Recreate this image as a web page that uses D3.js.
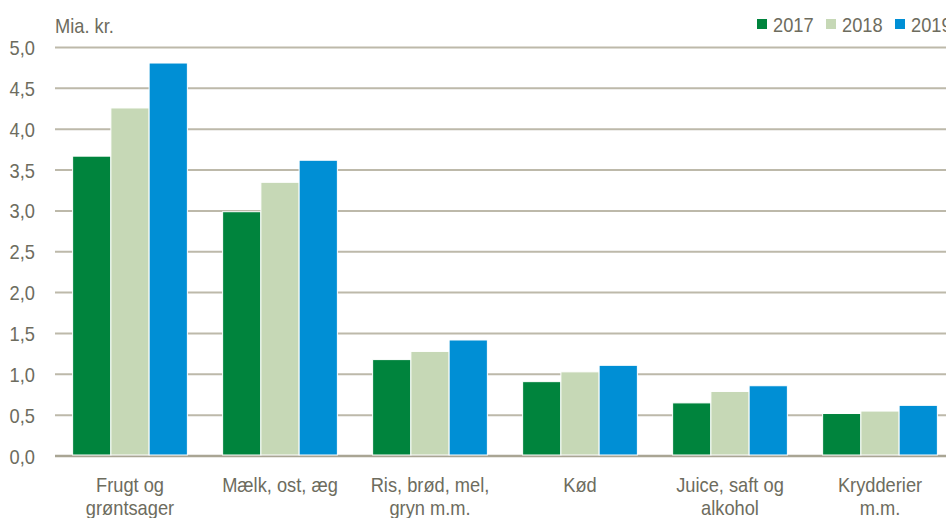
<html lang="da">
<head>
  <meta charset="utf-8" />
  <title>Mia. kr.</title>
  <script src="https://d3js.org/d3.v7.min.js"></script>
  <style>
    body { margin: 0; background: #ffffff; }
    text { font-family: "Liberation Sans Narrow", "Arial Narrow", "Liberation Sans", Arial, sans-serif; fill: #6d6c5e; font-size: 21px; }
  </style>
</head>
<body>
  <div id="chart"></div>
  <script>
    var width = 946,   // canvas size
        height = 518,
        squeeze = 0.87; // narrow look of the original font

    // data
    var categories = [
      ["Frugt og", "grøntsager"],
      ["Mælk, ost, æg"],
      ["Ris, brød, mel,", "gryn m.m."],
      ["Kød"],
      ["Juice, saft og", "alkohol"],
      ["Krydderier", "m.m."]
    ];
    var years = ["2017", "2018", "2019"];
    var values2017 = [3.67, 2.99, 1.18, 0.91, 0.65, 0.52];
    var values2018 = [4.26, 3.35, 1.28, 1.03, 0.79, 0.55];
    var values2019 = [4.81, 3.62, 1.42, 1.11, 0.86, 0.62];
    var yTicks = [0, 0.5, 1, 1.5, 2, 2.5, 3, 3.5, 4, 4.5, 5];
    var colors = ["#00843d", "#c6d8b6", "#008fd5"];

    var series = [values2017, values2018, values2019];

    var svg = d3.select("#chart")
                .append("svg")
                .attr("width", width)
                .attr("height", height);

    function place(x, y) { return "translate(" + x + "," + y + ") scale(" + squeeze + ",1)"; }

    // scales
    var x0 = d3.scaleBand()
               .domain(d3.range(categories.length))
               .range([55, 955])
               .paddingInner(0.235)
               .paddingOuter(0.1175);

    var x1 = d3.scaleBand()
               .domain(years)
               .range([0, x0.bandwidth()]);

    var y = d3.scaleLinear()
              .domain([0, 5])
              .range([456, 47.5]);

    var fmt = function(d) { return d3.format(".1f")(d).replace(".", ","); };

    // gridlines
    svg.append("g")
       .selectAll("line")
       .data(yTicks)
       .enter().append("line")
       .attr("x1", 55)
       .attr("x2", width)
       .attr("y1", function(d) { return y(d); })
       .attr("y2", function(d) { return y(d); })
       .attr("stroke", function(d) { return d === 0 ? "#a9a594" : "#bdb9aa"; })
       .attr("stroke-width", function(d) { return d === 0 ? 2.5 : 2; });

    // y tick labels
    svg.append("g")
       .selectAll("text")
       .data(yTicks)
       .enter().append("text")
       .attr("transform", function(d) { return place(35, y(d)); })
       .attr("dy", "0.36em")
       .attr("text-anchor", "end")
       .text(fmt);

    svg.append("text")
       .attr("transform", place(55, 33))
       .text("Mia. kr.");

    // bars
    var groups = svg.selectAll("g.grp")
                    .data(categories)
                    .enter().append("g")
                    .attr("class", "grp")
                    .attr("transform", function(d, i) { return "translate(" + x0(i) + ",0)"; });

    groups.selectAll("rect")
          .data(function(d, i) { return series.map(function(s, j) { return {year: years[j], value: s[i], color: colors[j]}; }); })
          .enter().append("rect")
          .attr("x", function(d) { return x1(d.year); })
          .attr("y", function(d) { return y(d.value); })
          .attr("width", x1.bandwidth())
          .attr("height", function(d) { return y(0) - y(d.value) - 1; })
          .attr("fill", function(d) { return d.color; })
          .attr("stroke", "#ffffff")
          .attr("stroke-width", 1);

    // category labels
    groups.append("text")
          .attr("transform", place(x0.bandwidth() / 2, 492))
          .attr("text-anchor", "middle")
          .selectAll("tspan")
          .data(function(d) { return d; })
          .enter().append("tspan")
          .attr("x", 0)
          .attr("dy", function(d, i) { return i === 0 ? 0 : 23; })
          .text(function(d) { return d; });

    // legend
    var legend = svg.selectAll("g.legend")
                    .data(years)
                    .enter().append("g")
                    .attr("class", "legend")
                    .attr("transform", function(d, i) { return "translate(" + (757 + i * 69) + ",0)"; });

    legend.append("rect")
          .attr("x", 0)
          .attr("y", 19)
          .attr("width", 10)
          .attr("height", 10)
          .attr("fill", function(d, i) { return colors[i]; });

    legend.append("text")
          .attr("transform", place(16, 32))
          .text(function(d) { return d; });
  </script>
</body>
</html>
